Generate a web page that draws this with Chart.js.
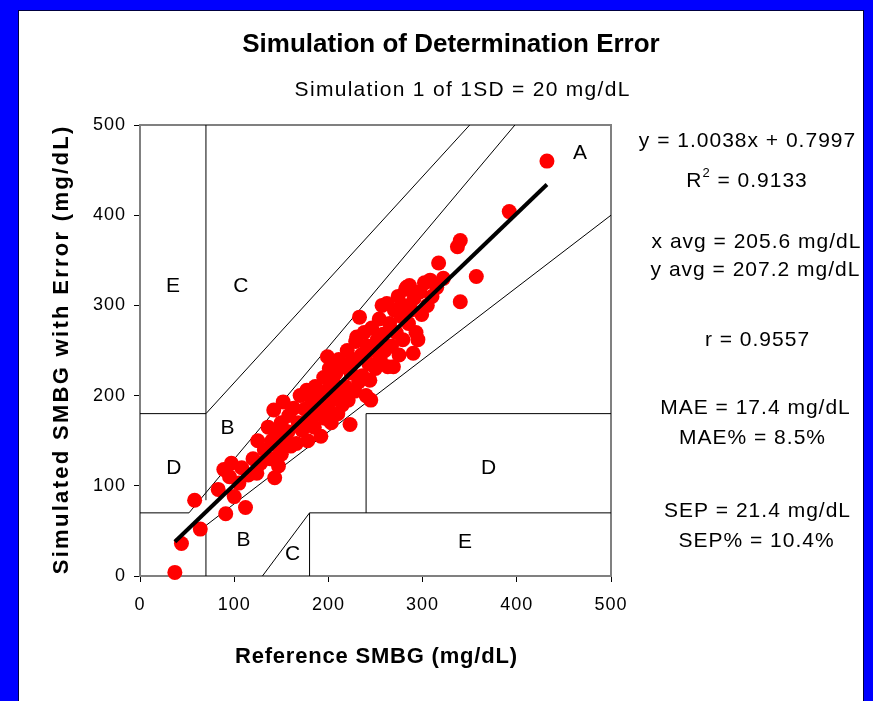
<!DOCTYPE html>
<html lang="en">
<head>
    <meta charset="UTF-8">
    <title>Simulation of Determination Error</title>
    <style>
        body {
            margin: 0;
            padding: 0;
            width: 873px;
            height: 701px;
            overflow: hidden;
            background: #0000ff;
            font-family: "Liberation Sans", Arial, sans-serif;
        }

        .panel {
            position: absolute;
            left: 18px;
            top: 10px;
            width: 846px;
            height: 691px;
            background: #ffffff;
            border-left: 1px solid #000040;
            border-top: 1px solid #000040;
            border-right: 1px solid #000040;
            box-sizing: border-box;
        }

        #grid-chart {
            position: absolute;
            left: 0;
            top: 0;
        }
    </style>
</head>
<body>
<div class="panel"></div>
<canvas id="grid-chart" width="873" height="701"></canvas>

<script src="https://cdn.jsdelivr.net/npm/chart.js"></script>
<script>
    // reference vs simulated SMBG (mg/dL)
    var refX = [37, 44, 64, 58, 91, 112, 83, 100, 89, 97, 105, 95, 108, 115,
        124, 120, 128, 132, 125, 138, 143, 140, 136, 145, 148, 142, 150, 147, 152, 155, 150, 158, 160, 157,
        163, 166, 168, 170, 172, 175, 177, 178, 180, 182, 185, 186, 188, 190, 192, 193, 195, 196, 198, 200, 199, 201, 203,
        205, 206, 208, 210, 211, 213, 215, 216, 218, 220, 221, 223, 224, 226, 228, 229, 230, 232, 233, 235, 236, 238, 240, 241, 243, 244, 245, 246, 248, 250,
        252, 254, 255, 257, 258, 260, 262, 263, 265, 267, 269, 270, 272, 274, 275, 277, 279, 280, 282, 283, 285, 286, 288, 290, 291, 293, 295, 297, 299,
        302, 305, 308, 310, 315, 317, 322, 337, 340, 340, 357, 392, 432];
    var simY = [4, 36, 52, 84, 69, 76, 96, 88, 118, 125, 103, 110, 120, 112,
        114, 130, 125, 140, 150, 130, 109, 150, 165, 160, 140, 184, 170, 122, 193, 150, 135, 178, 144, 160,
        186, 147, 170, 200, 162, 185, 206, 150, 175, 195, 165, 210, 180, 200, 155, 190, 220, 175, 205, 185, 243, 230, 170,
        215, 196, 225, 180, 240, 205, 190, 232, 210, 250, 195, 168, 225, 240, 205, 260, 265, 215, 287, 245, 222, 270, 200, 255, 235, 217, 195, 275, 250, 230,
        262, 285, 240, 300, 268, 250, 302, 232, 280, 255, 232, 295, 270, 310, 245, 288, 262, 300, 318, 320, 280, 322, 295, 247, 308, 270, 262, 315, 290,
        325, 300, 328, 310, 320, 347, 330, 365, 372, 304, 332, 404, 460];

    // trendline y = 1.0038x + 0.7997, end points
    var trendX = [37, 432];
    var trendY = [38, 434];

    // error grid boundaries, one polyline each: [x..], [y..]
    var zoneLines = [
        [[0, 70, 350], [180, 180, 500]],
        [[70, 70], [84, 500]],
        [[0, 52, 398], [70, 70, 500]],
        [[70, 70, 500], [0, 56, 400]],
        [[130, 180, 500], [0, 70, 70]],
        [[180, 180], [0, 70]],
        [[240, 240, 500], [70, 180, 180]]
    ];

    var zoneNames = ["A", "B", "B", "C", "C", "D", "D", "E", "E"];
    var zoneX = [467, 93, 110, 107, 162, 36, 370, 35, 345];
    var zoneY = [469, 164, 40, 321, 24, 120, 120, 321, 38];

    var axisTicks = [0, 100, 200, 300, 400, 500];

    var statLines = [
        "y = 1.0038x + 0.7997",
        "R2 = 0.9133",
        "x avg = 205.6 mg/dL",
        "y avg = 207.2 mg/dL",
        "r = 0.9557",
        "MAE = 17.4 mg/dL",
        "MAE% = 8.5%",
        "SEP = 21.4 mg/dL",
        "SEP% = 10.4%"
    ];
    var statCx = [747, 747, 756, 755, 757, 755, 752, 757, 756];
    var statCy = [141, 181, 242, 270, 340, 408, 438, 511, 541];

    var FONT = '"Liberation Sans", Arial, sans-serif';

    function toPoints(xs, ys) {
        return xs.map(function (x, i) {
            return {x: x, y: ys[i]};
        });
    }

    var datasets = [];
    datasets.push({
        data: toPoints(trendX, trendY),
        showLine: true,
        borderColor: '#000000',
        borderWidth: 4,
        pointRadius: 0,
        clip: false,
        order: 0
    });
    datasets.push({
        data: toPoints(refX, simY),
        showLine: false,
        backgroundColor: '#ff0000',
        borderWidth: 0,
        pointRadius: 7.5,
        pointHoverRadius: 7.5,
        clip: false,
        order: 1
    });
    zoneLines.forEach(function (z) {
        datasets.push({
            data: toPoints(z[0], z[1]),
            showLine: true,
            borderColor: '#000000',
            borderWidth: 1,
            pointRadius: 0,
            order: 2
        });
    });

    var spacingPlugin = {
        id: 'spacing',
        beforeDraw: function (chart) {
            chart.ctx.letterSpacing = '1px';
        }
    };

    var framePlugin = {
        id: 'frame',
        beforeDatasetsDraw: function (chart) {
            var a = chart.chartArea, ctx = chart.ctx;
            ctx.save();
            ctx.strokeStyle = '#808080';
            ctx.lineWidth = 2;
            ctx.beginPath();
            ctx.moveTo(a.left, a.top);
            ctx.lineTo(a.right, a.top);
            ctx.lineTo(a.right, a.bottom);
            ctx.stroke();
            ctx.restore();
        }
    };

    function spacedText(ctx, txt, x, y, spacing) {
        ctx.letterSpacing = spacing + 'px';
        var w = ctx.measureText(txt).width - spacing;
        ctx.textAlign = 'left';
        ctx.fillText(txt, x - w / 2, y);
    }

    var textPlugin = {
        id: 'texts',
        afterDraw: function (chart) {
            var ctx = chart.ctx, xs = chart.scales.x, ys = chart.scales.y;
            ctx.save();
            ctx.fillStyle = '#000000';
            ctx.textBaseline = 'middle';

            ctx.font = 'bold 26px ' + FONT;
            spacedText(ctx, 'Simulation of Determination Error', 451, 45, 0);
            ctx.font = '21px ' + FONT;
            spacedText(ctx, 'Simulation 1 of 1SD = 20 mg/dL', 462, 90, 1.3);

            ctx.font = 'bold 22px ' + FONT;
            spacedText(ctx, 'Reference SMBG (mg/dL)', 376, 657, 0.8);

            ctx.save();
            ctx.translate(62, (ys.top + ys.bottom) / 2);
            ctx.rotate(-Math.PI / 2);
            ctx.font = 'bold 22px ' + FONT;
            spacedText(ctx, 'Simulated SMBG with Error (mg/dL)', 0, 0, 2.3);
            ctx.restore();

            ctx.font = '21px ' + FONT;
            zoneNames.forEach(function (n, i) {
                spacedText(ctx, n, xs.getPixelForValue(zoneX[i]), ys.getPixelForValue(zoneY[i]), 0);
            });

            statLines.forEach(function (t, i) {
                ctx.font = '21px ' + FONT;
                if (t.indexOf('R2') === 0) {
                    ctx.letterSpacing = '1px';
                    var a = 'R', b = '2', c = ' = 0.9133';
                    var wa = ctx.measureText(a).width;
                    var wc = ctx.measureText(c).width;
                    ctx.font = '13px ' + FONT;
                    var wb = ctx.measureText(b).width;
                    var left = statCx[i] - (wa + wb + wc) / 2;
                    ctx.font = '21px ' + FONT;
                    ctx.textAlign = 'left';
                    ctx.fillText(a, left, statCy[i]);
                    ctx.fillText(c, left + wa + wb, statCy[i]);
                    ctx.font = '13px ' + FONT;
                    ctx.fillText(b, left + wa, statCy[i] - 8);
                } else {
                    spacedText(ctx, t, statCx[i], statCy[i], 1);
                }
            });
            ctx.restore();
        }
    };

    function axisOpts(pad, size) {
        return {
            type: 'linear',
            min: 0,
            max: 500,
            afterBuildTicks: function (scale) {
                scale.ticks = axisTicks.map(function (v) {
                    return {value: v};
                });
            },
            afterFit: function (scale) {
                if (scale.isHorizontal()) {
                    scale.height = size;
                } else {
                    scale.width = size;
                }
            },
            grid: {
                drawOnChartArea: false,
                drawTicks: true,
                tickLength: 6,
                color: '#000000'
            },
            border: {
                display: true,
                color: '#808080',
                width: 2
            },
            ticks: {
                color: '#000000',
                padding: pad,
                font: {family: FONT, size: 18}
            }
        };
    }

    var ctx = document.getElementById('grid-chart').getContext('2d');
    var chart = new Chart(ctx, {
        type: 'scatter',
        data: {datasets: datasets},
        options: {
            responsive: false,
            animation: false,
            events: [],
            layout: {
                padding: {left: 0, top: 125, right: 262, bottom: 65}
            },
            plugins: {
                legend: {display: false},
                tooltip: {enabled: false}
            },
            scales: {
                x: axisOpts(12, 60),
                y: axisOpts(8, 140)
            }
        },
        plugins: [spacingPlugin, framePlugin, textPlugin]
    });
</script>
</body>
</html>
